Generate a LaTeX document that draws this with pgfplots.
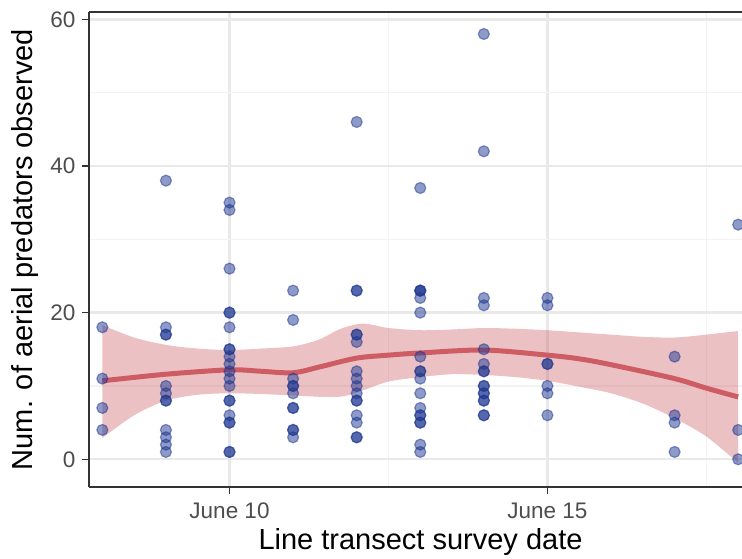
\documentclass[border=0pt]{standalone}
\usepackage{fontspec}
\setmainfont{Liberation Sans}
\usepackage{pgfplots}
\pgfplotsset{compat=1.18}
\usepgfplotslibrary{fillbetween}
\definecolor{ptblue}{RGB}{30,55,145}
\definecolor{smoothred}{RGB}{205,92,100}
\definecolor{gridmaj}{RGB}{233,233,233}
\definecolor{gridmin}{RGB}{243,243,243}
\definecolor{axisgray}{RGB}{51,51,51}
\definecolor{ticklab}{RGB}{77,77,77}
\begin{document}
\begin{tikzpicture}
\begin{axis}[
  name=ax,
  width=653pt, height=475pt, scale only axis,
  xmin=7.79, xmax=18.06, ymin=-3.78, ymax=61,
  axis x line=box, axis y line=left, y axis line style={-},
  axis line style={axisgray, line width=1.5pt},
  xtick pos=lower, ytick pos=left, tick align=outside,
  major tick length=7pt, minor tick length=0pt,
  tick style={axisgray, line width=1.5pt},
  xtick={10,15}, xticklabels={June 10, June 15},
  ytick={0,20,40,60},
  minor xtick={12.5,17.5}, minor ytick={10,30,50},
  grid=both,
  major grid style={gridmaj, line width=2.4pt},
  minor grid style={gridmin, line width=1.2pt},
  /pgf/number format/assume math mode=true,
  tick label style={font=\fontsize{22.5}{27}\selectfont, text=ticklab},
  xticklabel style={yshift=-5pt},
  yticklabel style={xshift=-3pt},
  label style={font=\fontsize{29}{34}\selectfont, text=black},
  xlabel={Line transect survey date},
  ylabel={Num. of aerial predators observed},
  xlabel style={at={(axis description cs:0.5077,0)}, anchor=base, yshift=-63pt},
  ylabel style={at={(axis description cs:-0.0858,0.5)}, anchor=base},
]
\addplot[only marks, mark=*, mark size=5.5pt,
  mark options={fill=ptblue, draw=ptblue, fill opacity=0.5, draw opacity=0.5, line width=1.2pt}]
  table {
x y
8 18
8 11
8 7
8 4
9 38
9 18
9 17
9 17
9 10
9 9
9 8
9 8
9 4
9 3
9 2
9 1
10 35
10 34
10 26
10 20
10 20
10 18
10 15
10 15
10 14
10 13
10 12
10 11
10 10
10 8
10 8
10 6
10 5
10 5
10 1
10 1
11 23
11 19
11 11
11 10
11 10
11 9
11 7
11 7
11 4
11 4
11 3
12 46
12 23
12 23
12 17
12 17
12 16
12 12
12 11
12 10
12 9
12 8
12 8
12 6
12 5
12 3
12 3
13 37
13 23
13 23
13 23
13 22
13 20
13 14
13 12
13 12
13 11
13 9
13 7
13 6
13 6
13 5
13 5
13 2
13 1
14 58
14 42
14 22
14 21
14 15
14 13
14 12
14 12
14 10
14 10
14 9
14 9
14 8
14 8
14 6
14 6
15 22
15 21
15 13
15 13
15 10
15 9
15 6
17 14
17 6
17 5
17 1
18 32
18 4
18 0
};
\addplot[name path=up, draw=none, smooth, tension=0.5] coordinates {
(8,18.3) (8.5,16.6) (9,15.6) (9.5,15.1) (10,14.9) (10.5,15.1) (11,15.4) (11.4,16.3) (11.75,17.8) (12.1,18.5) (12.5,17.9) (13,17.6) (13.5,17.7) (14,17.9) (14.5,17.8) (15,17.6) (15.5,17.3) (16,17.0) (16.5,16.7) (17,16.6) (17.5,17.0) (18,17.5)
};
\addplot[name path=lo, draw=none, smooth, tension=0.5] coordinates {
(8,2.9) (8.5,6.0) (9,8.0) (9.5,8.8) (10,9.0) (10.5,8.9) (11,8.7) (11.5,8.5) (11.8,8.6) (12.1,9.4) (12.5,10.6) (13,11.2) (13.5,11.6) (14,11.5) (14.5,11.2) (15,10.7) (15.5,9.9) (16,9.0) (16.5,7.6) (17,5.6) (17.5,3.1) (18,-0.5)
};
\addplot[draw=none, fill=smoothred, fill opacity=0.38] fill between[of=up and lo];
\addplot[smoothred, line width=5pt, smooth, tension=0.5] coordinates {
(8.0,10.7) (9.0,11.6) (10.0,12.2) (10.5,12.0) (11.0,11.8) (11.42,12.6) (12.0,13.8) (12.5,14.2) (13.0,14.5) (14.0,14.9) (15.0,14.2) (15.5,13.7) (16.0,12.9) (17.0,11.0) (17.5,9.7) (18.0,8.5)
};
\end{axis}
\pgfresetboundingbox
\path ([xshift=-89pt,yshift=-72pt]ax.south west) rectangle ([yshift=12pt]ax.north east);
\end{tikzpicture}
\end{document}
